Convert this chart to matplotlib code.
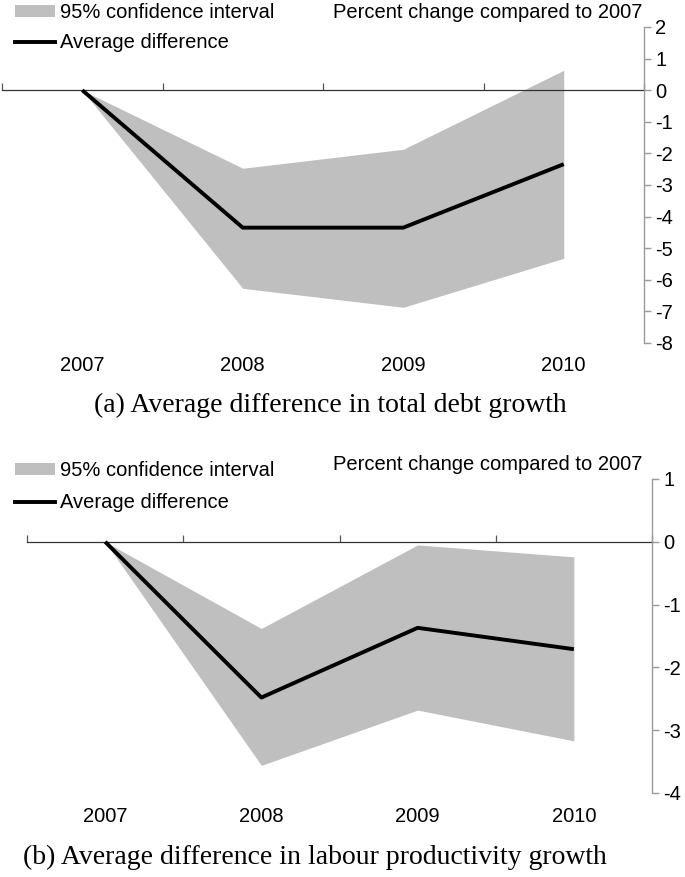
import matplotlib
matplotlib.use("Agg")
import matplotlib.pyplot as plt
import matplotlib.transforms as mtransforms
from matplotlib.patches import Patch
from matplotlib.lines import Line2D

years = ["2007", "2008", "2009", "2010"]

debt_avg = [0.0, -4.35, -4.35, -2.34]
debt_upper = [0.0, -2.47, -1.87, 0.63]
debt_lower = [0.0, -6.27, -6.87, -5.32]
debt_yticks = [2, 1, 0, -1, -2, -3, -4, -5, -6, -7, -8]

prod_avg = [0.0, -2.48, -1.37, -1.71]
prod_upper = [0.0, -1.38, -0.05, -0.24]
prod_lower = [0.0, -3.56, -2.68, -3.17]
prod_yticks = [1, 0, -1, -2, -3, -4]

title_text = "Percent change compared to 2007"
ci_label = "95% confidence interval"
avg_label = "Average difference"
caption_a = "(a) Average difference in total debt growth"
caption_b = "(b) Average difference in labour productivity growth"

W, H = 685, 877
fig = plt.figure(figsize=(W / 100, H / 100), dpi=100)
plt.rcParams['font.family'] = ['Liberation Sans', 'DejaVu Sans']

FILL = "#bfbfbf"
AXC = "#9a9a9a"
FS = 14.5


def px_rect(x0, x1, ytop, ybot):
    return [x0 / W, 1 - ybot / H, (x1 - x0) / W, (ybot - ytop) / H]


def panel(rect, avg, upper, lower, yticks, label_y, caption, caption_x,
          caption_y, leg_top, leg_sp, title_y):
    ax = fig.add_axes(rect)
    x = list(range(len(years)))
    ax.fill_between(x, lower, upper, color=FILL, linewidth=0, zorder=1)
    ax.plot(x, avg, color="black", lw=2.8, zorder=3, solid_capstyle="butt")
    ax.set_xlim(-0.5, len(years) - 0.5)
    ax.set_ylim(min(yticks), max(yticks))
    for s in ["left", "top"]:
        ax.spines[s].set_visible(False)
    ax.spines["right"].set_color(AXC)
    ax.spines["right"].set_linewidth(1.0)
    ax.spines["bottom"].set_position(("data", 0))
    ax.spines["bottom"].set_color("#333333")
    ax.spines["bottom"].set_linewidth(0.9)
    ax.spines["bottom"].set_zorder(2)
    ax.yaxis.tick_right()
    ax.set_yticks(yticks)
    ax.set_yticklabels([str(t) for t in yticks])
    ax.tick_params(axis="y", direction="out", length=5, width=1.0,
                   color=AXC, labelsize=FS, pad=3)
    bounds = [i - 0.5 for i in range(len(years) + 1)]
    ax.set_xticks(bounds)
    ax.set_xticklabels([""] * len(bounds))
    ax.tick_params(axis="x", direction="in", length=5, width=0.9,
                   color="#555555")
    ax.patch.set_visible(False)
    trans = mtransforms.blended_transform_factory(ax.transData, fig.transFigure)
    for i, yl in enumerate(years):
        ax.text(i, 1 - label_y / H, yl, transform=trans, ha="center",
                va="center", fontsize=FS)
    fig.text(caption_x / W, 1 - caption_y / H, caption, ha="center",
             va="center", fontsize=20,
             family=["Liberation Serif", "DejaVu Serif"])
    fig.text(642 / W, 1 - title_y / H, title_text, ha="right", va="center",
             fontsize=FS)
    handles = [Patch(facecolor=FILL, edgecolor="none"),
               Line2D([0], [0], color="black", lw=2.8)]
    fig.legend(handles, [ci_label, avg_label], loc="upper left",
               bbox_to_anchor=(15 / W, 1 - leg_top / H),
               frameon=False, fontsize=FS, handlelength=2.0,
               handleheight=0.5, handletextpad=0.25, labelspacing=leg_sp,
               borderaxespad=0, borderpad=0)
    return ax


panel(px_rect(2, 644, 27, 343), debt_avg, debt_upper, debt_lower,
      debt_yticks, 366, caption_a, 330, 405, 3, 0.55, 12)
panel(px_rect(27, 652, 479, 793), prod_avg, prod_upper, prod_lower,
      prod_yticks, 817, caption_b, 315, 857, 461, 0.65, 465)

fig.savefig("out.png", dpi=100)
